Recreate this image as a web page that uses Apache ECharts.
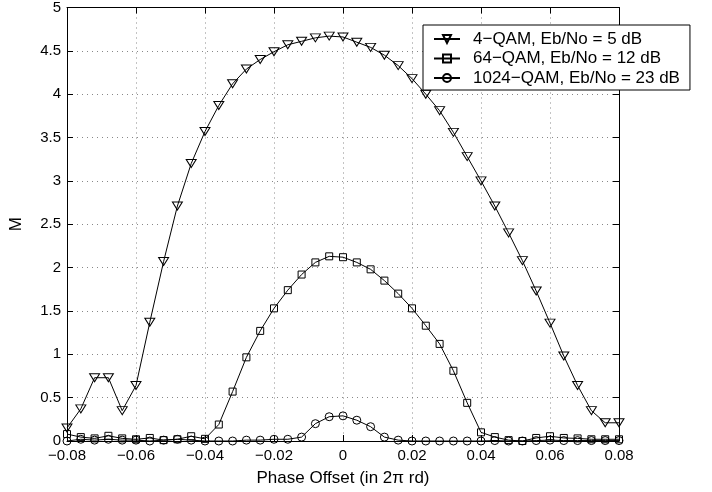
<!DOCTYPE html>
<html>
<head>
<meta charset="utf-8">
<script src="https://cdn.jsdelivr.net/npm/echarts@6/dist/echarts.min.js"></script>
<style>html,body{margin:0;padding:0;background:#fff}#c{width:712px;height:492px}</style>
</head>
<body>
<div id="c"></div>
<script>
var phaseOffset = [-0.080,-0.076,-0.072,-0.068,-0.064,-0.060,-0.056,-0.052,-0.048,-0.044,
  -0.040,-0.036,-0.032,-0.028,-0.024,-0.020,-0.016,-0.012,-0.008,-0.004,
  0.000,0.004,0.008,0.012,0.016,0.020,0.024,0.028,0.032,0.036,
  0.040,0.044,0.048,0.052,0.056,0.060,0.064,0.068,0.072,0.076,0.080];
var qam4 = [0.15,0.37,0.73,0.73,0.35,0.64,1.37,2.07,2.71,3.20,
  3.57,3.87,4.12,4.29,4.40,4.49,4.57,4.61,4.65,4.67,
  4.66,4.60,4.54,4.45,4.33,4.18,4.00,3.81,3.56,3.28,
  3.00,2.71,2.40,2.08,1.73,1.36,0.98,0.64,0.35,0.21,0.21];
var qam64 = [0.08,0.045,0.03,0.06,0.03,0.02,0.035,0.01,0.02,0.055,
  0.025,0.19,0.57,0.965,1.27,1.53,1.74,1.92,2.06,2.13,
  2.12,2.06,1.98,1.85,1.70,1.53,1.33,1.12,0.81,0.44,
  0.10,0.045,0.01,0.0,0.035,0.055,0.035,0.03,0.02,0.02,0.02];
var qam1024 = [0.0,0.02,0.01,0.02,0.01,0.01,0.0,0.01,0.02,0.01,
  0.0,0.0,0.0,0.01,0.01,0.02,0.02,0.045,0.20,0.28,
  0.29,0.24,0.165,0.045,0.01,0.0,0.0,0.0,0.0,0.0,
  0.0,0.005,0.0,0.0,0.005,0.01,0.005,0.005,0.005,0.005,0.005];
var seriesNames = ['4\u2212QAM, Eb/No = 5 dB','64\u2212QAM, Eb/No = 12 dB','1024\u2212QAM, Eb/No = 23 dB'];
var xLabel = 'Phase Offset (in 2\u03c0 rd)';
var yLabel = 'M';

function pairs(ys){ return phaseOffset.map(function(x,i){ return [x, ys[i]]; }); }
function fmtX(v){ if (Math.abs(v) < 1e-9) return '0'; return (v<0?'\u2212':'') + Math.abs(v).toFixed(2); }
function fmtY(v){ return String(Math.round(v*10)/10); }

var FONT = 'Liberation Sans, Arial, Helvetica, sans-serif';
var grid = {left:64, top:6, width:555, height:437};
var tickStyle = {show:true, inside:true, length:6, lineStyle:{color:'#000', width:1}};
var gridLine = {show:true, lineStyle:{color:'#888', width:1, type:[1,4]}};

function mk(name, data, symbol, size, rotate){
  return {
    name:name, type:'line', data:pairs(data),
    symbol:symbol, symbolSize:size, symbolRotate:rotate||0, showAllSymbol:true,
    lineStyle:{color:'#000', width:1},
    itemStyle:{color:'rgba(255,255,255,0)', borderColor:'#000', borderWidth:1},
    emphasis:{disabled:true}, animation:false, z:3
  };
}

var chart = echarts.init(document.getElementById('c'), null, {renderer:'canvas'});
chart.setOption({
  backgroundColor:'#fff',
  animation:false,
  grid:grid,
  legend:{
    orient:'vertical', left:423, top:25,
    backgroundColor:'#fff', borderColor:'#000', borderWidth:1,
    padding:[5,10,3,10], itemGap:1.5, itemWidth:26, itemHeight:10,
    textStyle:{fontFamily:FONT, fontSize:17, color:'#000', padding:[0,0,0,8], lineHeight:18},
    data:seriesNames, selectedMode:false, z:10
  },
  xAxis:[{
    type:'value', min:-0.08, max:0.08, interval:0.02, position:'bottom',
    name:xLabel, nameLocation:'middle', nameGap:29,
    nameTextStyle:{fontFamily:FONT, fontSize:17, color:'#000'},
    axisLine:{show:true, onZero:false, lineStyle:{color:'#000', width:1}},
    axisTick:tickStyle,
    axisLabel:{formatter:fmtX, fontFamily:FONT, fontSize:15, color:'#000', margin:7},
    splitLine:gridLine
  },{
    type:'value', min:-0.08, max:0.08, interval:0.02, position:'top',
    axisLine:{show:true, onZero:false, lineStyle:{color:'#000', width:1}},
    axisTick:tickStyle, axisLabel:{show:false}, splitLine:{show:false}
  }],
  yAxis:[{
    type:'value', min:0, max:5, interval:0.5, position:'left',
    name:yLabel, nameLocation:'middle', nameGap:42,
    nameTextStyle:{fontFamily:FONT, fontSize:17, color:'#000'},
    axisLine:{show:true, onZero:false, lineStyle:{color:'#000', width:1}},
    axisTick:tickStyle,
    axisLabel:{formatter:fmtY, fontFamily:FONT, fontSize:15, color:'#000', margin:6},
    splitLine:gridLine
  },{
    type:'value', min:0, max:5, interval:0.5, position:'right',
    axisLine:{show:true, onZero:false, lineStyle:{color:'#000', width:1}},
    axisTick:tickStyle, axisLabel:{show:false}, splitLine:{show:false}
  }],
  series:[
    mk(seriesNames[0], qam4, 'triangle', [10,8], 180),
    mk(seriesNames[1], qam64, 'rect', 7),
    mk(seriesNames[2], qam1024, 'circle', 8)
  ]
});
</script>
</body>
</html>
